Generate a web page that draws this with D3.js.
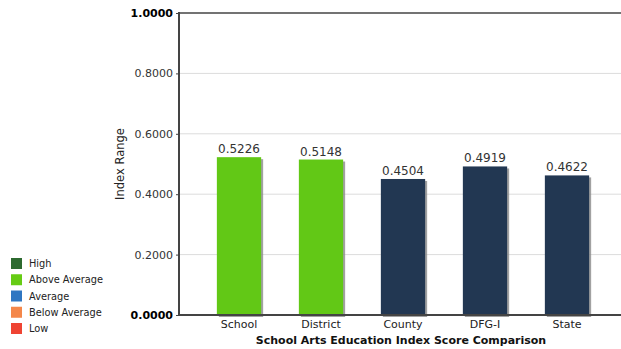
<!DOCTYPE html>
<html><head><meta charset="utf-8">
<script src="https://cdn.jsdelivr.net/npm/d3@7"></script>
<style>body{margin:0;background:#fff}svg{display:block;font-family:"DejaVu Sans",Verdana,sans-serif}</style>
</head><body><svg id="c" width="621" height="349"></svg>
<script>
const categories = ["School","District","County","DFG-I","State"];
const values = [0.5226,0.5148,0.4504,0.4919,0.4622];
const barLevels = ["Above Average","Above Average","Comparison","Comparison","Comparison"];
const yTicks = [0,0.2,0.4,0.6,0.8,1.0];
const legendItems = ["High","Above Average","Average","Below Average","Low"];
const legendColors = ["#2d6a30","#66cc14","#2e76c2","#f4874a","#ef4433"];
const levelColors = {"Above Average":"#62c816","Comparison":"#223752"};

const svg = d3.select("#c");
const x = d3.scaleBand().domain(categories).range([198,608]).paddingInner(0.46).paddingOuter(0.23);
const y = d3.scaleLinear().domain([0,1]).range([315,13]);

// gridlines
svg.append("g").selectAll("line").data(yTicks.filter(t=>t>0&&t<1)).join("line")
  .attr("x1",180).attr("x2",621).attr("y1",d=>y(d)).attr("y2",d=>y(d))
  .attr("stroke","#dcdcdc").attr("stroke-width",1);

// bars with shadow
const bars = svg.append("g");
bars.selectAll("rect.sh").data(values).join("rect").attr("class","sh")
  .attr("x",(d,i)=>x(categories[i])+2).attr("y",d=>y(d)+2)
  .attr("width",x.bandwidth()).attr("height",d=>y(0)-y(d))
  .attr("fill","#8a8a8a").attr("opacity",0.8);
bars.selectAll("rect.b").data(values).join("rect").attr("class","b")
  .attr("x",(d,i)=>x(categories[i])).attr("y",d=>y(d))
  .attr("width",x.bandwidth()).attr("height",d=>y(0)-y(d))
  .attr("fill",(d,i)=>levelColors[barLevels[i]]);
bars.selectAll("text").data(values).join("text")
  .attr("x",(d,i)=>x(categories[i])+x.bandwidth()/2).attr("y",d=>y(d)-4)
  .attr("text-anchor","middle").attr("font-size",12).attr("fill","#333")
  .text(d=>d.toFixed(4));

// axes lines
svg.append("line").attr("x1",179).attr("x2",621).attr("y1",13).attr("y2",13).attr("stroke","#444").attr("stroke-width",1.5);
svg.append("line").attr("x1",179).attr("x2",621).attr("y1",315).attr("y2",315).attr("stroke","#444").attr("stroke-width",2);
svg.append("line").attr("x1",179).attr("x2",179).attr("y1",12).attr("y2",316).attr("stroke","#444").attr("stroke-width",2);

// y axis
const ya = svg.append("g").attr("transform","translate(179,0)")
  .call(d3.axisLeft(y).tickValues(yTicks).tickFormat(d3.format(".4f")).tickSize(3).tickSizeOuter(0));
ya.select(".domain").remove();
ya.selectAll("line").attr("stroke","#444");
ya.selectAll("text").attr("font-size",11).attr("font-family","DejaVu Sans")
  .attr("font-weight",d=>(d===0||d===1)?"bold":"normal").attr("fill",d=>(d===0||d===1)?"#000":"#333");

// x axis
const xa = svg.append("g").attr("transform","translate(0,315)")
  .call(d3.axisBottom(x).tickSize(0).tickPadding(5));
xa.select(".domain").remove();
xa.selectAll("text").attr("font-size",11).attr("fill","#222").attr("font-family","DejaVu Sans");

svg.append("text").attr("x",401).attr("y",344).attr("text-anchor","middle")
  .attr("font-size",11).attr("font-weight","bold").attr("fill","#111")
  .text("School Arts Education Index Score Comparison");
svg.append("text").attr("transform","translate(124,164) rotate(-90)").attr("text-anchor","middle")
  .attr("font-size",11.5).attr("fill","#222").text("Index Range");

// legend
const lg = svg.append("g");
const ly = d3.scalePoint().domain(legendItems).range([263,328]);
lg.selectAll("rect").data(legendItems).join("rect")
  .attr("x",11).attr("y",d=>ly(d)-5).attr("width",11).attr("height",11)
  .attr("fill",(d,i)=>legendColors[i]);
lg.selectAll("text").data(legendItems).join("text")
  .attr("x",29).attr("y",d=>ly(d)+4).attr("font-size",9.8).attr("fill","#222").text(d=>d);
</script></body></html>
